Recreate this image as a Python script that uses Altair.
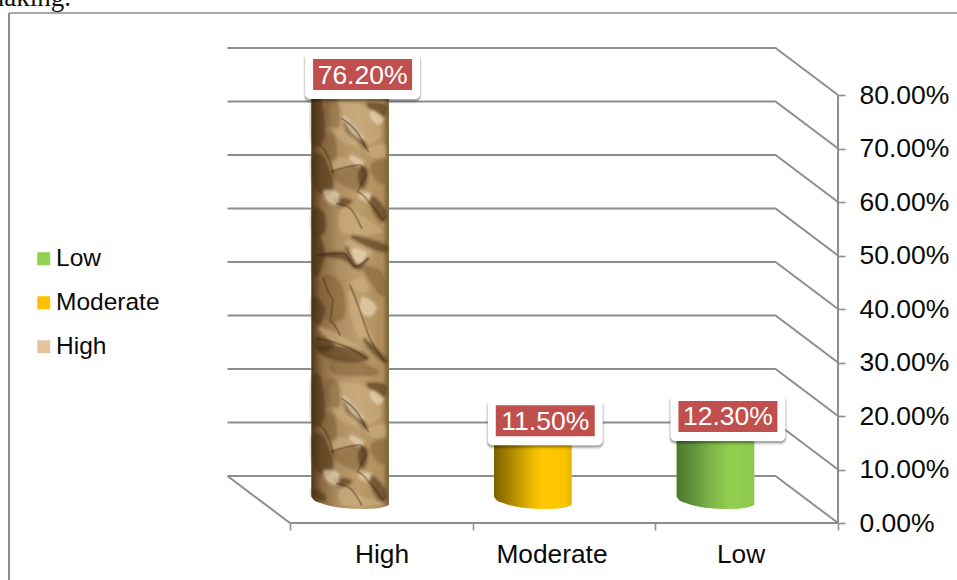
import altair as alt
import numpy as np
import pandas as pd

# Chart content
LEVELS = ["High", "Moderate", "Low"]
VALUES = [76.2, 11.5, 12.3]
LEGEND_ORDER = ["Low", "Moderate", "High"]
SWATCHES = ["#92D050", "#FFC000", "#E4C49C"]
GRID_VALUES = [0, 10, 20, 30, 40, 50, 60, 70, 80]
CATEGORY_EDGES = [0, 1, 2, 3]

# Pixel layout of the oblique projection
W, H = 957, 580
X0, Y0 = 290.0, 523.0        # front-left corner of the floor
PX_PER_CAT = 182.67
PX_PER_PCT = 5.35
DEPTH_PX = (-62.5, -47.0)    # front edge to back wall
GRAY = "#8E8E8E"
FONT = "Liberation Sans"


def ux(px):
    return (px - X0) / PX_PER_CAT


def vy(px):
    return (Y0 - px) / PX_PER_PCT


XS = alt.Scale(domain=[ux(0), ux(W)], range=[0, W], nice=False, zero=False)
YS = alt.Scale(domain=[vy(H), vy(0)], range=[H, 0], nice=False, zero=False)
X = alt.X("x:Q", scale=XS, axis=None)
Y = alt.Y("y:Q", scale=YS, axis=None)
X2 = alt.X2("x2:Q")
Y2 = alt.Y2("y2:Q")

# Walls and floor -----------------------------------------------------------
back_dx, back_dy = DEPTH_PX[0] / PX_PER_CAT, -DEPTH_PX[1] / PX_PER_PCT
grid_rows = []
for v in GRID_VALUES:
    for i, (x, y) in enumerate([(back_dx, v + back_dy), (3 + back_dx, v + back_dy), (3, v)]):
        grid_rows.append({"v": v, "i": i, "x": x, "y": y})
grid = alt.Chart(pd.DataFrame(grid_rows)).mark_line(color=GRAY, strokeWidth=2).encode(
    x=X, y=Y, detail="v:N", order="i:Q"
)

floor_df = pd.DataFrame(
    [{"i": 0, "x": back_dx, "y": back_dy}, {"i": 1, "x": 0, "y": 0}, {"i": 2, "x": 3, "y": 0}]
)
floor = alt.Chart(floor_df).mark_line(color=GRAY, strokeWidth=2).encode(x=X, y=Y, order="i:Q")

# Real axes carrying the ticks and percentage labels
axis_df = pd.DataFrame({"x": [3, 3], "y": [0, 80], "i": [0, 1]})
value_axis = alt.Chart(axis_df).mark_line(color=GRAY, strokeWidth=2).encode(
    x=alt.X("x:Q", scale=XS, axis=alt.Axis(
        orient="bottom", offset=-(H - Y0), values=CATEGORY_EDGES, labels=False, domain=False,
        grid=False, title=None, tickSize=7, tickColor=GRAY, tickWidth=1.6)),
    y=alt.Y("y:Q", scale=YS, axis=alt.Axis(
        orient="right", offset=-(W - (X0 + 3 * PX_PER_CAT)), values=GRID_VALUES, domain=False,
        grid=False, title=None, tickSize=7, tickColor=GRAY, tickWidth=1.6, labelPadding=14,
        labelFont=FONT, labelFontSize=26.5, labelColor="#0A0A0A", labelAlign="left",
        labelExpr="format(datum.value, '.2f') + '%'", labelBaseline="middle")),
    order="i:Q",
)

# Cylinders -----------------------------------------------------------------
CYL_WIDTH = 77.5
CYL_SHIFT_PX = 0.5 * DEPTH_PX[0]
CYL_BASE_PX = Y0 + 0.5 * DEPTH_PX[1]
# Skewed lower rim: fraction across the column, pixels below the base level
RIM_U = [0.0, 0.04, 0.12, 0.25, 0.42, 0.6, 0.8, 0.93, 1.0]
RIM_DROP = [-3.0, 1.0, 3.5, 6.5, 8.5, 9.3, 9.0, 7.5, 5.5]


def column_left(i):
    return X0 + (i + 0.5) * PX_PER_CAT + CYL_SHIFT_PX - CYL_WIDTH / 2


def column_frame(i):
    top = vy(CYL_BASE_PX) + VALUES[i]
    rows = []
    for u, d in zip(RIM_U, RIM_DROP):
        rows.append({
            "level": LEVELS[i],
            "x": ux(column_left(i) + u * CYL_WIDTH),
            "y": top,
            "y2": vy(CYL_BASE_PX + d),
        })
    return pd.DataFrame(rows)


def stops(pairs):
    return [alt.GradientStop(color=c, offset=o) for o, c in pairs]


def gradient(pairs):
    return alt.Gradient(gradient="linear", stops=stops(pairs), x1=0, x2=1, y1=0, y2=0)


legend_layer = alt.Chart(pd.concat([column_frame(i) for i in range(3)])).mark_area(
    interpolate="monotone", orient="vertical").encode(
    x=X, y=Y, y2=Y2,
    color=alt.Color("level:N", scale=alt.Scale(domain=LEGEND_ORDER, range=SWATCHES), legend=alt.Legend(
        orient="none", legendX=30.5, legendY=246.5, title=None, symbolType="square", symbolSize=169,
        symbolStrokeWidth=0, symbolOffset=1, labelFont=FONT, labelFontSize=24.5, labelColor="#0A0A0A",
        labelOffset=0, rowPadding=19, padding=0)),
)

FILLS = [
    [(0, "#4E3819"), (0.05, "#644A28"), (0.14, "#8D6C42"), (0.35, "#AE8E62"), (0.6, "#BC9B6C"), (0.92, "#AF8C5A"), (1, "#745A30")],
    [(0, "#7D6100"), (0.2, "#A88400"), (0.5, "#EDBA00"), (0.62, "#FFC800"), (0.9, "#FDC500"), (1, "#E8B400")],
    [(0, "#4C7A30"), (0.2, "#5F913B"), (0.45, "#7FB548"), (0.7, "#92D050"), (1, "#8CC84C")],
]
columns = [
    alt.Chart(column_frame(i)).mark_area(
        interpolate="monotone", orient="vertical", color=gradient(FILLS[i])
    ).encode(x=X, y=Y, y2=Y2)
    for i in range(3)
]

# Crumpled-paper surface of the tall column: hand-traced facets on a 100x140 tile,
# stacked down the column (tile A, tile B, tile A).
TILE_A = {
    "dark": [
        [(40, 15), (60, 12), (72, 95), (60, 145), (40, 135)],
        [(40, 185), (70, 190), (95, 260), (80, 300), (45, 270)],
        [(42, 345), (70, 360), (70, 410), (42, 410)],
        [(105, 312), (150, 318), (130, 330), (110, 326)],
        [(215, 305), (250, 340), (255, 370), (240, 372), (220, 340)],
        [(135, 80), (170, 105), (195, 155), (170, 130), (145, 110)],
        [(205, 28), (252, 32), (252, 60), (230, 50)],
        [(185, 215), (200, 235), (190, 275), (178, 250)],
    ],
    "mid": [
        [(100, 235), (180, 215), (195, 240), (170, 280), (120, 260)],
        [(70, 120), (100, 130), (105, 190), (80, 180)],
        [(215, 215), (252, 195), (252, 260), (230, 250)],
        [(80, 20), (110, 25), (115, 90), (85, 80)],
    ],
    "light": [
        [(100, 30), (200, 40), (240, 120), (180, 150), (110, 120)],
        [(130, 340), (190, 370), (240, 410), (130, 410)],
        [(200, 170), (250, 150), (248, 190)],
        [(105, 190), (150, 200), (140, 225), (105, 225)],
    ],
    "pale": [
        [(155, 185), (185, 200), (180, 212), (155, 195)],
        [(75, 290), (110, 295), (110, 325), (85, 315)],
        [(190, 295), (210, 300), (200, 315), (180, 305)],
        [(220, 50), (245, 70), (235, 85), (215, 65)],
        [(130, 70), (160, 90), (190, 130), (160, 115)],
    ],
}
TILE_B = {
    "dark": [
        [(42, 5), (55, 5), (70, 60), (50, 118), (42, 100)],
        [(60, 60), (130, 55), (165, 95), (130, 70)],
        [(140, 40), (170, 90), (200, 70), (175, 100)],
        [(42, 190), (70, 220), (60, 260), (42, 250)],
        [(55, 310), (100, 330), (70, 345), (50, 340)],
        [(60, 338), (150, 342), (200, 368), (170, 378), (90, 368)],
        [(195, 315), (252, 368), (254, 380), (220, 350)],
        [(160, 5), (250, 30), (252, 48), (200, 30)],
    ],
    "mid": [
        [(195, 100), (240, 110), (254, 150), (248, 180), (215, 140)],
        [(70, 130), (120, 150), (130, 240), (80, 250)],
        [(100, 380), (180, 385), (230, 415), (110, 415)],
    ],
    "light": [
        [(140, 20), (210, 45), (200, 75), (165, 85)],
        [(150, 170), (190, 260), (215, 310), (190, 320), (160, 260)],
        [(60, 280), (130, 310), (180, 345), (120, 335)],
        [(150, 150), (190, 130), (200, 170)],
    ],
    "pale": [
        [(190, 190), (225, 215), (210, 240), (185, 225)],
        [(160, 45), (195, 55), (190, 75), (170, 80)],
    ],
}
# Thin creases running across the facets, in the same tile coordinates
CREASES_A = [
    [(125, 70), (170, 110), (205, 170)],
    [(95, 230), (180, 210), (200, 240), (170, 290), (215, 330), (250, 375)],
    [(60, 150), (90, 200), (100, 235)],
    [(110, 325), (150, 340), (185, 400)],
]
CREASES_B = [
    [(50, 60), (130, 55), (165, 95), (205, 70)],
    [(150, 150), (170, 200), (210, 310), (250, 375)],
    [(55, 310), (150, 340), (200, 370)],
    [(70, 130), (100, 190), (90, 260), (120, 300)],
]
TONES = {
    "light": ("#D6B98C", 0.30),
    "mid": ("#7F5C34", 0.30),
    "dark": ("#4A3015", 0.36),
    "pale": ("#EEDCBC", 0.45),
}
# Each facet is painted in three passes of shrinking outline for a soft edge
SOFT_PASSES = [(7.0, 0.35), (3.5, 0.6), (0.8, 1.0)]
TILE_STACK = [(TILE_A, CREASES_A, 95.0), (TILE_B, CREASES_B, 235.0), (TILE_A, CREASES_A, 375.0)]
left0 = column_left(0)


def tile_point(zx, zy, y_top):
    px, py = 300 + zx / 3, y_top + zy / 3
    u = (px - left0) / CYL_WIDTH
    py = min(py, CYL_BASE_PX + float(np.interp(u, RIM_U, RIM_DROP)) - 4)
    return ux(px), vy(py)


facet_rows = {t: [] for t in TONES}
crease_rows = []
pid = 0
for tile, creases, y_top in TILE_STACK:
    for tone, polys in tile.items():
        for poly in polys:
            pid += 1
            for k, (zx, zy) in enumerate(poly):
                x, y = tile_point(zx, zy, y_top)
                facet_rows[tone].append({"id": pid, "i": k, "x": x, "y": y})
    for line in creases:
        pid += 1
        for k, (zx, zy) in enumerate(line):
            x, y = tile_point(zx, zy, y_top)
            crease_rows.append({"id": pid, "i": k, "x": x, "y": y})
facets = [
    alt.Chart(pd.DataFrame(facet_rows[t])).mark_line(
        interpolate="cardinal-closed", fill=TONES[t][0], stroke=TONES[t][0], strokeWidth=sw,
        strokeJoin="round", opacity=TONES[t][1] * k
    ).encode(x=X, y=Y, detail="id:N", order="i:Q")
    for t in TONES
    for sw, k in SOFT_PASSES
]
crease_layers = [
    alt.Chart(pd.DataFrame(crease_rows)).mark_line(
        interpolate="monotone", color="#3F2911", strokeWidth=sw, opacity=op, strokeCap="round"
    ).encode(x=X, y=Y, detail="id:N", order="i:Q")
    for sw, op in [(3.0, 0.12), (1.3, 0.35)]
]

# Data labels ---------------------------------------------------------------
LABEL_DX = 12.5
LABEL_DY = -17.3
rows = []
for i, (lev, val) in enumerate(zip(LEVELS, VALUES)):
    cx = column_left(i) + CYL_WIDTH / 2 + LABEL_DX
    cy = CYL_BASE_PX - val * PX_PER_PCT + LABEL_DY
    rows.append({"level": lev, "cx": cx, "cy": cy, "label": f"{val:.2f}%"})
labels = pd.DataFrame(rows)


def box(half_w, half_h, dy=0.0):
    return pd.DataFrame({
        "x": ux(labels.cx - half_w), "x2": ux(labels.cx + half_w),
        "y": vy(labels.cy + dy - half_h), "y2": vy(labels.cy + dy + half_h),
    })


def box_layer(half_w, half_h, dy, color, opacity=1.0, radius=0):
    return alt.Chart(box(half_w, half_h, dy)).mark_rect(
        color=color, opacity=opacity, cornerRadius=radius
    ).encode(x=X, x2=X2, y=Y, y2=Y2)


shadow = [
    box_layer(59.5, 25.0, 4.0, "#000000", 0.06, 7),
    box_layer(58.5, 24.0, 3.5, "#000000", 0.12, 6),
    box_layer(57.5, 23.5, 3.0, "#000000", 0.18, 5),
]
halo = box_layer(57.5, 23.5, 1.0, "#FFFFFF", 1.0, 5)
plate = box_layer(49.5, 15.5, 0.0, "#C0504D")
value_text = alt.Chart(pd.DataFrame({
    "x": ux(labels.cx), "y": vy(labels.cy + 1.0), "label": labels.label
})).mark_text(font=FONT, fontSize=26.5, color="#FFFFFF", baseline="middle", align="center").encode(
    x=X, y=Y, text="label:N"
)

# Category names under the floor
cat_df = pd.DataFrame({
    "x": [ux(382), ux(552), ux(741)],
    "y": [vy(554.5)] * 3,
    "label": LEVELS,
})
cat_text = alt.Chart(cat_df).mark_text(
    font=FONT, fontSize=26.3, color="#0A0A0A", baseline="middle", align="center"
).encode(x=X, y=Y, text="label:N")

# Chart frame and the tail of the caption above it
frame_top = alt.Chart(pd.DataFrame({"a": [0]})).mark_rule(color=GRAY, strokeWidth=1.6).encode(
    x=alt.value(9), x2=alt.value(W), y=alt.value(13)
)
frame_left = alt.Chart(pd.DataFrame({"a": [0]})).mark_rule(color=GRAY, strokeWidth=2).encode(
    x=alt.value(9), y=alt.value(13), y2=alt.value(H)
)
caption = alt.Chart(pd.DataFrame({"t": ["making."]})).mark_text(
    font="Liberation Serif", fontSize=27, color="#111111", align="right", baseline="alphabetic"
).encode(x=alt.value(71), y=alt.value(6), text="t:N")

chart = alt.layer(
    caption, frame_top, frame_left, value_axis, grid, floor, legend_layer,
    *columns, *facets, *crease_layers, *shadow, halo, plate, value_text, cat_text,
).resolve_axis(x="independent", y="independent").properties(
    width=W, height=H, padding=0, background="#FFFFFF",
    autosize=alt.AutoSizeParams(type="none"),
).configure_view(stroke=None)

chart.save("out.html", embed_options={"renderer": "svg", "actions": False})
